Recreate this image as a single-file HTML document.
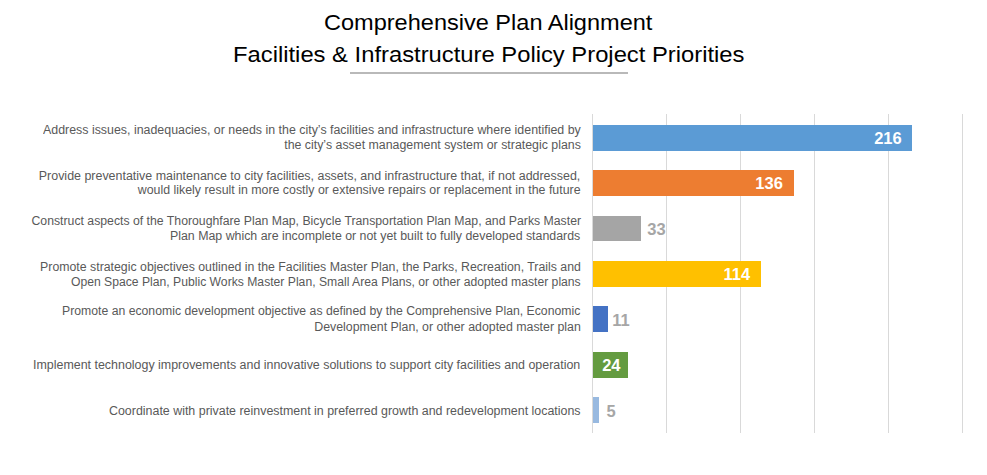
<!DOCTYPE html>
<html><head><meta charset="utf-8"><style>
html,body{margin:0;padding:0;background:#fff;}
body{width:987px;height:475px;position:relative;overflow:hidden;font-family:"Liberation Sans",sans-serif;}
.t{position:absolute;white-space:nowrap;line-height:1;}
.title{font-size:22.5px;color:#000;transform-origin:0 0;}
.lab{font-size:12px;color:#595959;transform-origin:100% 0;}
.g{position:absolute;top:114px;height:319px;width:1px;background:#d9d9d9;}
.bar{position:absolute;left:593px;height:26px;}
.dl{position:absolute;font-weight:bold;font-size:16.5px;line-height:1;white-space:nowrap;}
</style></head><body>

<div class="t title" id="t1" style="left:324px;top:11.5px;transform:scaleX(1.046)">Comprehensive Plan Alignment</div>
<div class="t title" id="t2" style="left:233px;top:43.5px;transform:scaleX(1.057)">Facilities &amp; Infrastructure Policy Project Priorities</div>
<div style="position:absolute;left:350px;top:72px;width:278px;height:2px;background:#b9b9b9"></div>
<div class="g" style="left:592px"></div>
<div class="g" style="left:666px"></div>
<div class="g" style="left:740px"></div>
<div class="g" style="left:814px"></div>
<div class="g" style="left:888px"></div>
<div class="g" style="left:962px"></div>
<div class="bar" style="top:125px;width:319px;height:26px;background:#5B9BD5"></div>
<div class="bar" style="top:170px;width:201px;height:26px;background:#ED7D31"></div>
<div class="bar" style="top:216px;width:48px;height:25px;background:#A5A5A5"></div>
<div class="bar" style="top:261px;width:168px;height:26px;background:#FFC000"></div>
<div class="bar" style="top:306px;width:15px;height:26px;background:#4472C4"></div>
<div class="bar" style="top:352px;width:35px;height:26px;background:#649B40"></div>
<div class="bar" style="top:397px;width:6px;height:26px;background:#98B9E0"></div>
<div class="t lab" id="l0" style="right:406.3px;top:123.84px;transform:scaleX(1.0326)">Address issues, inadequacies, or needs in the city’s facilities and infrastructure where identified by</div>
<div class="t lab" id="l1" style="right:406.3px;top:138.64px;transform:scaleX(1.0306)">the city’s asset management system or strategic plans</div>
<div class="t lab" id="l2" style="right:406.3px;top:169.64px;transform:scaleX(1.0368)">Provide preventative maintenance to city facilities, assets, and infrastructure that, if not addressed,</div>
<div class="t lab" id="l3" style="right:406.3px;top:184.34px;transform:scaleX(1.0307)">would likely result in more costly or extensive repairs or replacement in the future</div>
<div class="t lab" id="l4" style="right:406.3px;top:214.54px;transform:scaleX(1.0214)">Construct aspects of the Thoroughfare Plan Map, Bicycle Transportation Plan Map, and Parks Master</div>
<div class="t lab" id="l5" style="right:406.3px;top:229.64px;transform:scaleX(1.0302)">Plan Map which are incomplete or not yet built to fully developed standards</div>
<div class="t lab" id="l6" style="right:406.3px;top:261.04px;transform:scaleX(1.0264)">Promote strategic objectives outlined in the Facilities Master Plan, the Parks, Recreation, Trails and</div>
<div class="t lab" id="l7" style="right:406.3px;top:276.04px;transform:scaleX(1.0141)">Open Space Plan, Public Works Master Plan, Small Area Plans, or other adopted master plans</div>
<div class="t lab" id="l8" style="right:406.3px;top:305.24px;transform:scaleX(1.0197)">Promote an economic development objective as defined by the Comprehensive Plan, Economic</div>
<div class="t lab" id="l9" style="right:406.3px;top:320.64px;transform:scaleX(1.0299)">Development Plan, or other adopted master plan</div>
<div class="t lab" id="l10" style="right:406.3px;top:358.64px;transform:scaleX(1.0360)">Implement technology improvements and innovative solutions to support city facilities and operation</div>
<div class="t lab" id="l11" style="right:406.3px;top:404.54px;transform:scaleX(1.0352)">Coordinate with private reinvestment in preferred growth and redevelopment locations</div>
<div class="dl" id="d0" style="right:85.3px;top:130px;color:#fff">216</div>
<div class="dl" id="d1" style="right:204.2px;top:175px;color:#fff">136</div>
<div class="dl" id="d2" style="left:647.3px;top:221px;color:#a6a6a6">33</div>
<div class="dl" id="d3" style="right:236.8px;top:266px;color:#fff">114</div>
<div class="dl" id="d4" style="left:612.3px;top:312px;color:#a6a6a6">11</div>
<div class="dl" id="d5" style="right:366.5px;top:357px;color:#fff">24</div>
<div class="dl" id="d6" style="left:606.4px;top:403px;color:#a6a6a6">5</div>
</body></html>
